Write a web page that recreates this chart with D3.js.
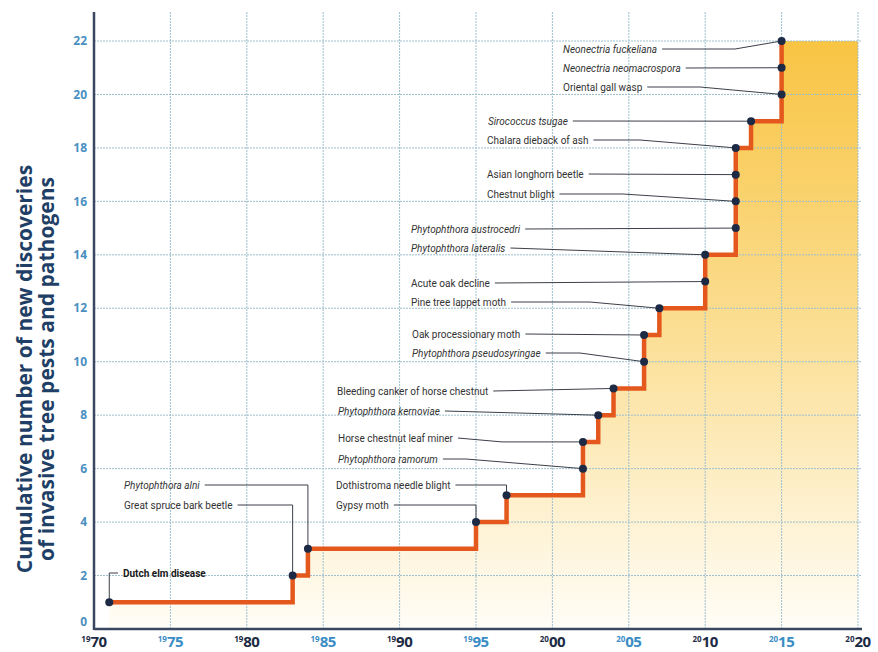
<!DOCTYPE html>
<html>
<head>
<meta charset="utf-8">
<script src="https://cdn.jsdelivr.net/npm/d3@7"></script>
<style>
  body { margin: 0; background: #fff; }
  svg { display: block; }
</style>
</head>
<body>
<svg id="chart" width="878" height="652"></svg>
<script>
// discoveries, in the order they appear on the staircase
var pests = [
    "Dutch elm disease", "Great spruce bark beetle", "Phytophthora alni", "Gypsy moth",
    "Dothistroma needle blight", "Phytophthora ramorum", "Horse chestnut leaf miner",
    "Phytophthora kernoviae", "Bleeding canker of horse chestnut", "Phytophthora pseudosyringae",
    "Oak processionary moth", "Pine tree lappet moth", "Acute oak decline", "Phytophthora lateralis",
    "Phytophthora austrocedri", "Chestnut blight", "Asian longhorn beetle", "Chalara dieback of ash",
    "Sirococcus tsugae", "Oriental gall wasp", "Neonectria neomacrospora", "Neonectria fuckeliana"
];
var years = [1971, 1983, 1984, 1995, 1997, 2002, 2002, 2003, 2004, 2006, 2006,
             2007, 2010, 2010, 2012, 2012, 2012, 2012, 2013, 2015, 2015, 2015];
var counts = [1, 2, 3, 4, 5, 6, 7, 8, 9, 10, 11, 12, 13, 14, 15, 16, 17, 18, 19, 20, 21, 22];
// latin names are set in italics
var latin = [false, false, true, false, false, true, false, true, false, true, false,
             false, false, true, true, false, false, false, true, false, true, true];

var xTicks = [1970, 1975, 1980, 1985, 1990, 1995, 2000, 2005, 2010, 2015, 2020];
var yTicks = [0, 2, 4, 6, 8, 10, 12, 14, 16, 18, 20, 22];
var titleLines = ["Cumulative number of new discoveries", "of invasive tree pests and pathogens"];

// label placement (pixels): text left, text middle, leader shape
// kind: "left" bracket on the left, "elbow" across then down, "line" straight / with a flat run to bx
var labelPos = [
    {x: 123, y: 573, kind: "left"},
    {x: 124, y: 505, kind: "elbow"},
    {x: 124, y: 485, kind: "elbow"},
    {x: 336, y: 505, kind: "elbow"},
    {x: 336, y: 485, kind: "elbow"},
    {x: 338, y: 459, kind: "line", bx: 466},
    {x: 338, y: 438, kind: "flat", cx: 502},
    {x: 338, y: 411, kind: "line"},
    {x: 337, y: 391, kind: "line"},
    {x: 412, y: 353, kind: "line", bx: 580},
    {x: 412, y: 334, kind: "line"},
    {x: 411, y: 302, kind: "line", bx: 590},
    {x: 411, y: 283, kind: "line"},
    {x: 411, y: 248, kind: "line"},
    {x: 411, y: 229, kind: "line"},
    {x: 487, y: 194, kind: "line", bx: 623},
    {x: 487, y: 174, kind: "line"},
    {x: 487, y: 140, kind: "line", bx: 640},
    {x: 488, y: 121, kind: "line"},
    {x: 563, y: 87,  kind: "line", bx: 700},
    {x: 563, y: 68,  kind: "line"},
    {x: 563, y: 49,  kind: "line", bx: 735}
];

var svg = d3.select("#chart");
var x = d3.scaleLinear().domain([1970, 2020]).range([94, 858]);
var y = d3.scaleLinear().domain([0, 22]).range([629, 41]);

var points = years.map(function(yr, i){ return [yr, counts[i]]; });

// gradient for the area under the staircase
var grad = svg.append("defs").append("linearGradient")
    .attr("id", "fillGrad")
    .attr("gradientUnits", "userSpaceOnUse")
    .attr("x1", 0).attr("x2", 0)
    .attr("y1", y(22)).attr("y2", y(0));
grad.append("stop").attr("offset", "0%").attr("stop-color", "#f8c443");
grad.append("stop").attr("offset", "45%").attr("stop-color", "#fbdc8c");
grad.append("stop").attr("offset", "100%").attr("stop-color", "#fffdf7");

var areaPts = points.concat([[2020, 22]]);
var area = d3.area()
    .curve(d3.curveStepAfter)
    .x(function(d){ return x(d[0]); })
    .y0(y(0))
    .y1(function(d){ return y(d[1]); });
svg.append("path")
    .attr("d", area(areaPts))
    .attr("fill", "url(#fillGrad)");

// dotted grid
var grid = svg.append("g")
    .attr("stroke", "#9dbfce")
    .attr("stroke-width", 1)
    .attr("stroke-dasharray", "2,1");
grid.selectAll("line.h").data(yTicks.filter(function(v){ return v > 0; }))
    .enter().append("line")
    .attr("x1", x(1970)).attr("x2", x(2020) + 4)
    .attr("y1", function(d){ return y(d); })
    .attr("y2", function(d){ return y(d); });
grid.selectAll("line.v").data(xTicks.filter(function(v){ return v > 1970; }))
    .enter().append("line")
    .attr("x1", function(d){ return x(d); })
    .attr("x2", function(d){ return x(d); })
    .attr("y1", 12).attr("y2", y(0));

// the staircase
var step = d3.line()
    .curve(d3.curveStepAfter)
    .x(function(d){ return x(d[0]); })
    .y(function(d){ return y(d[1]); });
svg.append("path")
    .attr("d", step(points))
    .attr("fill", "none")
    .attr("stroke", "#e4581d")
    .attr("stroke-width", 4.5);

// labels and leader lines
var labels = svg.append("g")
    .attr("font-family", "Roboto, sans-serif")
    .attr("font-size", 10)
    .attr("fill", "#333");
var leaders = svg.append("g")
    .attr("fill", "none")
    .attr("stroke", "#3b3f48")
    .attr("stroke-width", 1);

pests.forEach(function(name, i){
    var p = labelPos[i];
    var t = labels.append("text")
        .attr("x", p.x).attr("y", p.y)
        .attr("dy", "0.35em")
        .style("font-style", latin[i] ? "italic" : "normal")
        .style("font-weight", i === 0 ? "bold" : "normal")
        .attr("fill", i === 0 ? "#1a1a1a" : "#333")
        .text(name);
    var end = p.x + t.node().getComputedTextLength() + 5;
    var dx = x(years[i]), dy = y(counts[i]);
    var pts;
    if(p.kind === "left"){
        pts = [[p.x - 5, p.y], [dx, p.y], [dx, dy]];
    } else if(p.kind === "elbow"){
        pts = [[end, p.y], [dx, p.y], [dx, dy]];
    } else if(p.kind === "flat"){
        pts = [[end, p.y], [p.cx, dy], [dx, dy]];
    } else {
        pts = [[end, p.y]];
        if(p.bx) pts.push([p.bx, p.y]);
        pts.push([dx, dy]);
    }
    leaders.append("path").attr("d", d3.line()(pts));
});

// dots
svg.append("g").selectAll("circle").data(points)
    .enter().append("circle")
    .attr("cx", function(d){ return x(d[0]); })
    .attr("cy", function(d){ return y(d[1]); })
    .attr("r", 4)
    .attr("fill", "#1c2a45");

// axes
svg.append("line")
    .attr("x1", x(1970)).attr("x2", x(2020) + 4)
    .attr("y1", y(0)).attr("y2", y(0))
    .attr("stroke", "#3a4760").attr("stroke-width", 2.5);
svg.append("line")
    .attr("x1", x(1970)).attr("x2", x(1970))
    .attr("y1", 12).attr("y2", y(0) + 1)
    .attr("stroke", "#3a4760").attr("stroke-width", 2.5);

svg.append("g").selectAll("text").data(yTicks)
    .enter().append("text")
    .attr("x", 87)
    .attr("y", function(d){ return d === 0 ? y(d) - 7 : y(d); })
    .attr("dy", "0.35em")
    .attr("text-anchor", "end")
    .attr("font-family", "'Open Sans', sans-serif")
    .attr("font-weight", "bold")
    .attr("font-size", 12)
    .attr("fill", "#4b8fbf")
    .text(function(d){ return d; });

// year labels: small century digits, big decade digits
var xl = svg.append("g").selectAll("text").data(xTicks)
    .enter().append("text")
    .attr("x", function(d){ return x(d); })
    .attr("y", 647)
    .attr("text-anchor", "middle")
    .attr("font-family", "'Open Sans', sans-serif")
    .attr("font-weight", "bold")
    .attr("fill", function(d, i){ return i % 2 ? "#3a8cc4" : "#1c2a44"; });
xl.append("tspan")
    .attr("font-size", 8)
    .attr("dy", -5)
    .text(function(d){ return String(d).slice(0, 2); });
xl.append("tspan")
    .attr("font-size", 15)
    .attr("dy", 5)
    .attr("letter-spacing", -0.5)
    .text(function(d){ return String(d).slice(2); });

// rotated y title
svg.append("g")
    .attr("transform", "translate(0,369) rotate(-90)")
    .selectAll("text").data(titleLines)
    .enter().append("text")
    .attr("x", 0)
    .attr("y", function(d, i){ return 25 + i * 22; })
    .attr("dy", "0.35em")
    .attr("text-anchor", "middle")
    .attr("font-family", "'Open Sans', sans-serif")
    .attr("font-weight", "bold")
    .attr("font-size", 21)
    .attr("fill", "#1f3f66")
    .text(function(d){ return d; });
</script>
</body>
</html>
